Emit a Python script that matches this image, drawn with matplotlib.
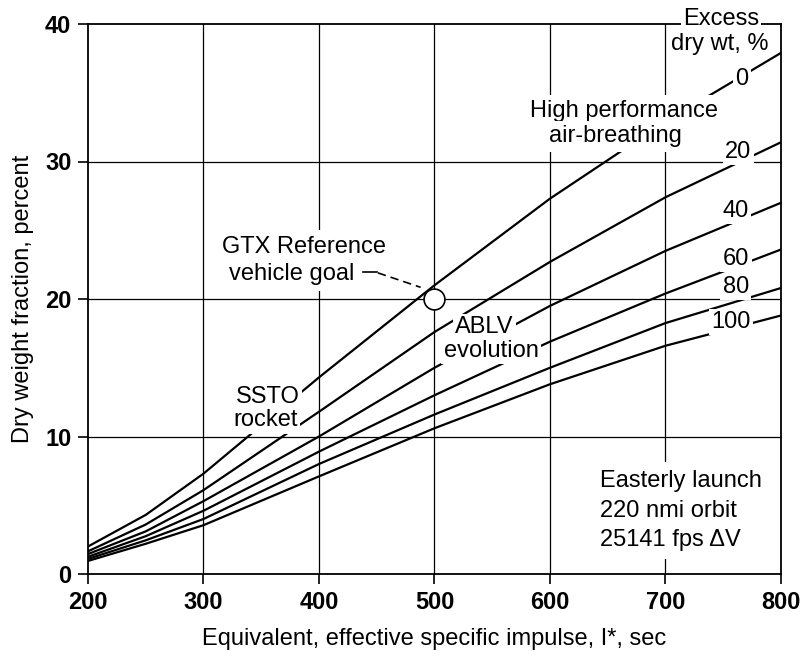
"""Dry weight fraction vs equivalent specific impulse, by excess dry weight."""
import matplotlib
matplotlib.use('Agg')
import matplotlib.pyplot as plt

plt.rcParams['font.family'] = ['Liberation Sans', 'DejaVu Sans']

# values
isp = [200, 250, 300, 400, 500, 600, 700, 800]
dry_0 = [2.0, 4.3, 7.3, 14.3, 21.0, 27.3, 32.9, 37.9]
dry_20 = [1.65, 3.6, 6.1, 11.8, 17.6, 22.7, 27.4, 31.4]
dry_40 = [1.45, 3.1, 5.3, 10.0, 15.0, 19.5, 23.5, 27.0]
dry_60 = [1.25, 2.75, 4.6, 8.9, 13.0, 16.9, 20.4, 23.6]
dry_80 = [1.1, 2.45, 4.0, 8.0, 11.6, 15.0, 18.25, 20.8]
dry_100 = [0.95, 2.2, 3.55, 7.1, 10.6, 13.8, 16.6, 18.8]
curves = [dry_0, dry_20, dry_40, dry_60, dry_80, dry_100]
excess_labels = ['0', '20', '40', '60', '80', '100']

x_ticks = [200, 300, 400, 500, 600, 700, 800]
y_ticks = [0, 10, 20, 30, 40]

goal_isp, goal_dry = 500, 20

FS = 17

fig = plt.figure(figsize=(8.04, 6.64), dpi=100)
ax = fig.add_axes([88 / 804, 90 / 664, 693 / 804, 550 / 664])

for x in x_ticks[1:-1]:
    ax.axvline(x, color='black', lw=0.9, zorder=1)
for y in y_ticks[1:-1]:
    ax.axhline(y, color='black', lw=0.9, zorder=1)

for c in curves:
    ax.plot(isp, c, color='black', lw=1.6, zorder=2)

ax.set_xlim(200, 800)
ax.set_ylim(0, 40)
ax.set_xticks(x_ticks)
ax.set_yticks(y_ticks)
ax.tick_params(direction='out', length=7, width=1.2, labelsize=FS, pad=5)
for lab in ax.get_xticklabels() + ax.get_yticklabels():
    lab.set_fontweight('bold')
for s in ax.spines.values():
    s.set_linewidth(1.3)

ax.set_xlabel('Equivalent, effective specific impulse, I*, sec', fontsize=FS, labelpad=10)
ax.set_ylabel('Dry weight fraction, percent', fontsize=FS, labelpad=8)


def label(x, y, s, ha='center', pad=0.1):
    ax.text(x, y, s, fontsize=FS, ha=ha, va='baseline', zorder=5, clip_on=False,
            bbox=dict(boxstyle=f'square,pad={pad}', fc='white', ec='none'))


# excess dry weight legend on the right
label(748, 39.93, 'Excess')
label(747, 38.1, 'dry wt, %')
label_pos = [(766, 35.56), (763, 30.25), (761, 25.96), (761, 22.47), (761, 20.44), (757, 17.9)]
for (x, y), s in zip(label_pos, excess_labels):
    label(x, y, s)

label(664, 33.24, 'High performance', pad=0.2)
label(657, 31.4, 'air-breathing', pad=0.2)
label(387, 23.35, 'GTX Reference', pad=0.25)
label(376, 21.4, 'vehicle goal', pad=0.25)
label(543, 17.5, 'ABLV')
label(549, 15.8, 'evolution')
label(356, 12.44, 'SSTO')
label(354, 10.75, 'rocket')
label(643, 6.33, 'Easterly launch', ha='left', pad=0.35)
label(643, 4.15, '220 nmi orbit', ha='left', pad=0.35)
label(643, 2.04, '25141 fps ΔV', ha='left', pad=0.35)

# leader from the goal label to the reference point
ax.plot([438, 450], [21.96, 21.96], color='black', lw=1.2, zorder=6)
ax.plot([451, 488], [21.9, 20.85], color='black', lw=1.2, ls=(0, (5, 3)), zorder=6)
ax.plot([goal_isp], [goal_dry], 'o', ms=15, mfc='white', mec='black', mew=1.2, zorder=7)

fig.savefig('out.png', dpi=100)
